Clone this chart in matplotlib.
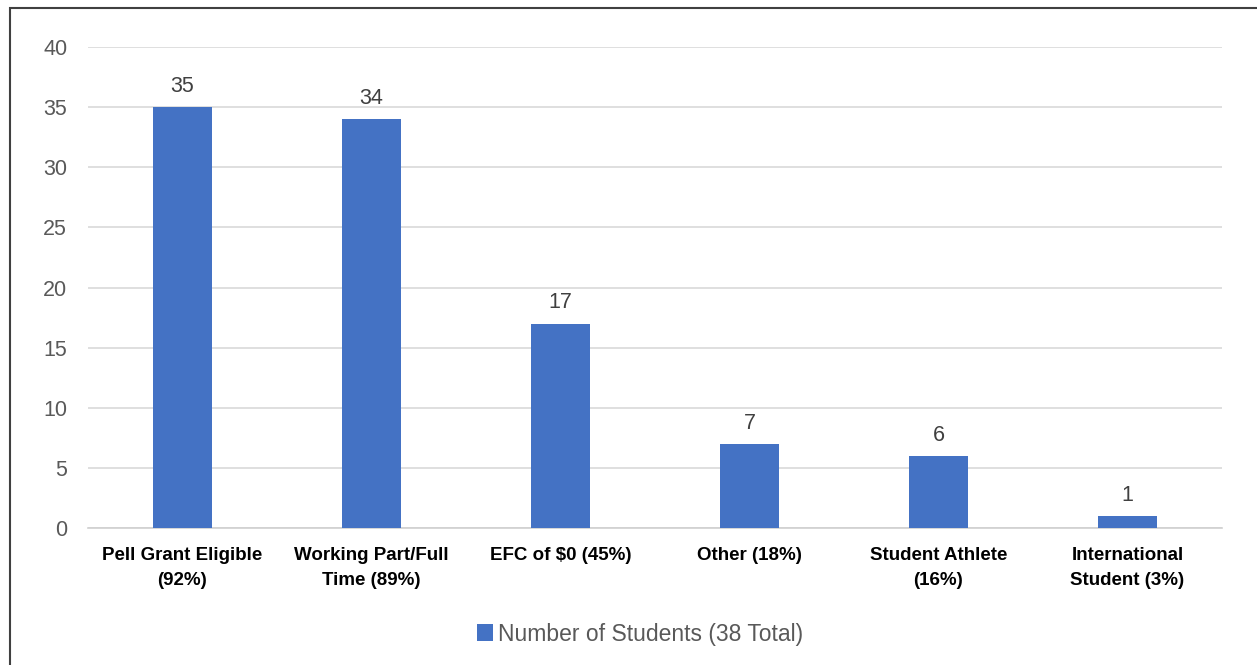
import matplotlib
matplotlib.use("Agg")
import matplotlib.pyplot as plt
from matplotlib.patches import Rectangle
from matplotlib import font_manager

categories = ["Pell Grant Eligible\n(92%)", "Working Part/Full\nTime (89%)", "EFC of $0 (45%)",
              "Other (18%)", "Student Athlete\n(16%)", "International\nStudent (3%)"]
values = [35, 34, 17, 7, 6, 1]
series_name = "Number of Students (38 Total)"
yticks = [0, 5, 10, 15, 20, 25, 30, 35, 40]

names = {f.name for f in font_manager.fontManager.ttflist}
narrow = "Liberation Sans Narrow" if "Liberation Sans Narrow" in names else "Liberation Sans"
plt.rcParams['font.family'] = ['Liberation Sans', 'DejaVu Sans']

fig = plt.figure(figsize=(12.57, 6.65), dpi=100)
ax = fig.add_axes([88/1257, 1-528/665, (1222-88)/1257, (528-47)/665])

color = "#4472C4"
x = list(range(len(categories)))
bars = ax.bar(x, values, width=0.31, color=color, label=series_name, zorder=3)
for xi, v in zip(x, values):
    ax.text(xi, v + 0.85, str(v), ha='center', va='bottom', fontsize=15.5, color='#404040')

ax.set_xlim(-0.5, len(categories) - 0.5)
ax.set_ylim(0, 40)
ax.set_yticks(yticks)
ax.set_yticklabels([str(t) for t in yticks], fontsize=15.5, color='#595959')
ax.yaxis.grid(True, color='#d9d9d9', linewidth=1.2, zorder=0)
ax.set_xticks(x)
ax.set_xticklabels(categories, fontsize=13.5, fontweight='bold', family=narrow, color='black', linespacing=1.55)
ax.tick_params(axis='both', length=0)
ax.tick_params(axis='y', pad=15)
ax.tick_params(axis='x', pad=14)
for s in ['top', 'right', 'left']:
    ax.spines[s].set_visible(False)
ax.spines['bottom'].set_color('#d0d0d0')
ax.spines['bottom'].set_linewidth(1.2)
ax.set_axisbelow(True)

leg = fig.legend(handles=[bars], labels=[series_name], loc='center', bbox_to_anchor=(640/1257, 1-634/665),
                 frameon=False, prop={'family': narrow, 'size': 16.5}, handlelength=0.7, handleheight=0.7,
                 handletextpad=0.2)
for t in leg.get_texts():
    t.set_color('#595959')

fig.patches.append(Rectangle((10/1257, -0.01), 1.1, 1 - 8/665 + 0.01, transform=fig.transFigure,
                             fill=False, edgecolor='#404040', linewidth=1.5))

fig.savefig("out.png", dpi=100)
